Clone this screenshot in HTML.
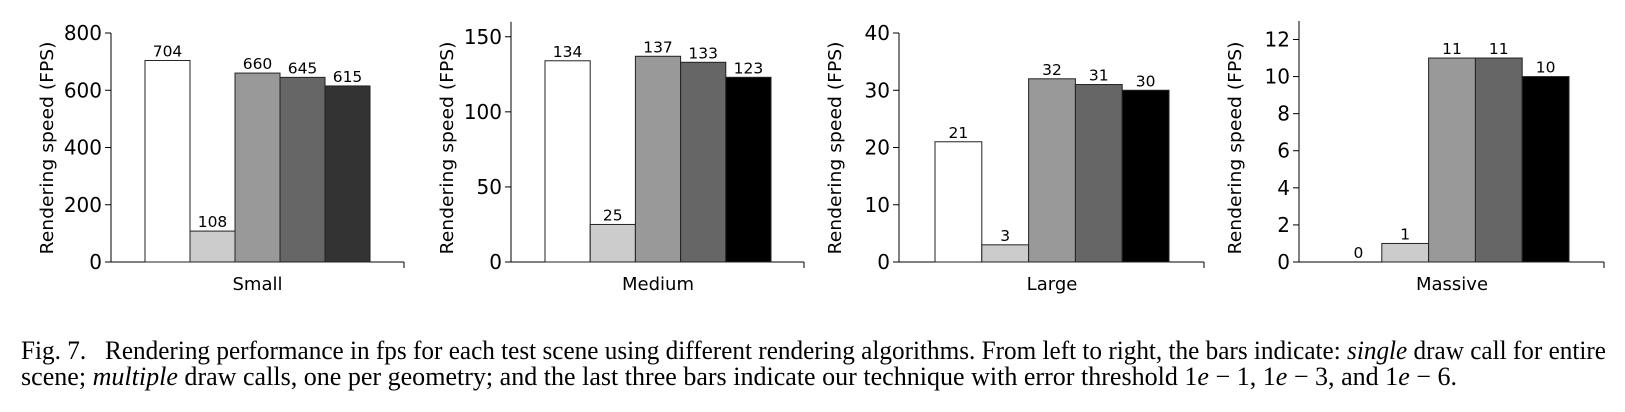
<!DOCTYPE html>
<html><head><meta charset="utf-8">
<style>
body{margin:0;background:#fff;width:1625px;height:412px;overflow:hidden;}
svg{display:block;}
#cap{position:absolute;left:21px;top:338px;width:1585px;font-family:"Liberation Serif",serif;font-size:26px;line-height:26px;color:#000;}
#cap span{display:block;white-space:nowrap;transform-origin:0 0;width:max-content;}
</style></head><body>
<svg id="chart" width="1625" height="330"></svg>
<div id="cap"><span id="l1">Fig. 7.&nbsp;&nbsp; Rendering performance in fps for each test scene using different rendering algorithms. From left to right, the bars indicate: <i>single</i> draw call for entire</span><span id="l2">scene; <i>multiple</i> draw calls, one per geometry; and the last three bars indicate our technique with error threshold 1<i>e</i> − 1, 1<i>e</i> − 3, and 1<i>e</i> − 6.</span></div>
<script>
const scenes = ["Small","Medium","Large","Massive"];
const singleVals = [704,134,21,0];
const multipleVals = [108,25,3,1];
const err1Vals = [660,137,32,11];
const err3Vals = [645,133,31,11];
const err6Vals = [615,123,30,10];
const yMax = [800,160,40,13];
const yTicks = [[0,200,400,600,800],[0,50,100,150],[0,10,20,30,40],[0,2,4,6,8,10,12]];

const NS="http://www.w3.org/2000/svg";
const svg=document.getElementById('chart');
const axisX=[111,511,899,1299], barStart=[145,545,935,1335], axisEnd=[404,804,1204,1604];
const barW=[45,45.2,46.8,46.8];
const fills=[["#fff","#ccc","#999","#666","#333"],["#fff","#ccc","#999","#666","#000"],["#fff","#ccc","#999","#666","#000"],["#fff","#ccc","#999","#666","#000"]];
const y0=262, yTopFull=33;
function mk(tag,attrs,parent){const e=document.createElementNS(NS,tag);for(const k in attrs)e.setAttribute(k,attrs[k]);(parent||svg).appendChild(e);return e;}
scenes.forEach((s,i)=>{
  const g=mk('g',{});
  
  
  const scale=(y0-yTopFull)/(i==0?800:(i==1?152.5:(i==2?40:12.35)));
  const yS=v=>y0-v*scale;
  const topY=yS(yMax[i]);
  const ax=axisX[i];
  const yl=mk('line',{x1:ax,y1:topY,x2:ax,y2:y0,stroke:'#000','stroke-width':1},g);
  
  
  const xl=mk('line',{x1:ax,y1:y0,x2:axisEnd[i],y2:y0,stroke:'#000','stroke-width':1},g);
  
  
  mk('line',{x1:axisEnd[i],y1:y0,x2:axisEnd[i],y2:y0+6,stroke:'#000'},g);
  yTicks[i].forEach(t=>{
    const y=yS(t);
    mk('line',{x1:ax-6,y1:y,x2:ax,y2:y,stroke:'#000'},g);
    const tx=mk('text',{x:ax-9,y:y+7,'text-anchor':'end','font-family':'DejaVu Sans, sans-serif','font-size':20},g);
    tx.textContent=t;
    
    
  });
  const yt=mk('text',{x:0,y:0,transform:`translate(${ax-58},148) rotate(-90)`,'text-anchor':'middle','font-family':'DejaVu Sans, sans-serif','font-size':18,textLength:213,lengthAdjust:'spacingAndGlyphs'},g);
  yt.textContent='Rendering speed (FPS)';
  
  
  const vals=[singleVals[i],multipleVals[i],err1Vals[i],err3Vals[i],err6Vals[i]];
  vals.forEach((v,j)=>{
    const x=barStart[i]+j*barW[i];
    if(v>0){
      const r=mk('rect',{x:x,y:yS(v),width:barW[i],height:y0-yS(v),fill:fills[i][j],stroke:'#222','stroke-width':1},g);
      
      
    }
    const lt=mk('text',{x:x+barW[i]/2,y:yS(v)-4,'text-anchor':'middle','font-family':'DejaVu Sans, sans-serif','font-size':15.5},g);
    lt.textContent=v;
    
    
  });
  const xt=mk('text',{x:barStart[i]+2.5*barW[i],y:290,'text-anchor':'middle','font-family':'DejaVu Sans, sans-serif','font-size':18},g);
  xt.textContent=s;
  
  
});
const l1=document.getElementById('l1');
l1.style.transform='scaleX('+(1585/l1.getBoundingClientRect().width)+')';
const l2=document.getElementById('l2');
l2.style.transform='scaleX('+(1436/l2.getBoundingClientRect().width)+')';
</script>
</body></html>
